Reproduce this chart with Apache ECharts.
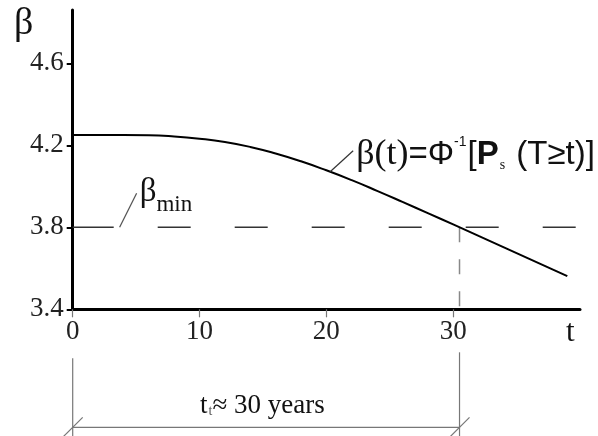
<!DOCTYPE html>
<html>
<head>
<meta charset="utf-8">
<script src="https://cdn.jsdelivr.net/npm/echarts@6/dist/echarts.min.js"></script>
<style>
html,body{margin:0;padding:0;background:#fff;}
#c{width:598px;height:436px;}
</style>
</head>
<body>
<div id="c"></div>
<script>
// ---- data ----
const tValues = [0, 2, 4, 6, 8, 10, 12, 14, 16, 18, 20, 22, 24, 26, 28, 30, 32, 34, 36, 38, 39];
const betaValues = [4.25, 4.25, 4.25, 4.249, 4.243, 4.232, 4.216, 4.192, 4.16, 4.122, 4.078, 4.03, 3.978, 3.924, 3.869, 3.814, 3.758, 3.702, 3.646, 3.59, 3.562];
const betaMin = 3.8;
const tTarget = 30.5;
const xTicks = [0, 10, 20, 30];
const yTicks = [3.4, 3.8, 4.2, 4.6];
const xRange = [0, 40];
const yRange = [3.4, 4.86];

const SERIF = '"Liberation Serif","Times New Roman",serif';
const SANS = '"Liberation Sans",Arial,sans-serif';

const curve = tValues.map((t, i) => [t, betaValues[i]]);

const chart = echarts.init(document.getElementById('c'), null, {renderer: 'canvas'});
const option = {
  animation: false,
  backgroundColor: '#fff',
  grid: {left: 72.7, right: 18, top: 10, bottom: 126.7},
  xAxis: {
    type: 'value', min: xRange[0], max: xRange[1],
    splitLine: {show: false},
    axisLine: {lineStyle: {color: '#000', width: 3}},
    axisTick: {customValues: xTicks, length: 8, lineStyle: {color: '#777', width: 1.2}},
    axisLabel: {customValues: xTicks, fontFamily: SERIF, fontSize: 27, color: '#222', margin: 9}
  },
  yAxis: {
    type: 'value', min: yRange[0], max: yRange[1],
    splitLine: {show: false},
    axisLine: {lineStyle: {color: '#000', width: 3}},
    axisTick: {customValues: yTicks, length: 6, lineStyle: {color: '#000', width: 2}},
    axisLabel: {customValues: yTicks, fontFamily: SERIF, fontSize: 27, color: '#222', margin: 9,
      formatter: v => v.toFixed(1)}
  },
  series: [
    {
      type: 'line', data: [[xRange[0], betaMin], [xRange[1], betaMin]],
      showSymbol: false, silent: true,
      lineStyle: {color: '#333', width: 1.5, type: [41, 44, 33, 44, 33, 44, 33, 44, 33, 44, 33, 44, 33, 44]}
    },
    {
      type: 'line', data: [[tTarget, betaMin], [tTarget, yRange[0]]],
      showSymbol: false, silent: true,
      lineStyle: {color: '#888', width: 1.5, type: [15, 17]}
    },
    {
      type: 'line', data: curve, smooth: 0.5, showSymbol: false, silent: true, z: 5,
      lineStyle: {color: '#000', width: 2}
    }
  ]
};
chart.setOption(option);

const P = (x, y) => chart.convertToPixel({gridIndex: 0}, [x, y]);
const mctx = document.createElement('canvas').getContext('2d');
function tw(text, font) { mctx.font = font; return mctx.measureText(text).width; }

function textRun(x, baseline, pieces) {
  const els = [];
  let cx = x;
  pieces.forEach(p => {
    const weight = p.bold ? 'bold ' : '';
    const font = weight + p.size + 'px ' + p.family;
    els.push({
      type: 'text', silent: true, z: 20,
      style: {
        text: p.text, x: cx, y: baseline + (p.dy || 0) - 0.32 * p.size,
        font: font, fill: p.color || '#111', verticalAlign: 'middle', align: 'left'
      }
    });
    cx += tw(p.text, font) + (p.gap || 0);
  });
  return els;
}

function line(x1, y1, x2, y2, color, w) {
  return {type: 'line', silent: true, z: 15,
    shape: {x1, y1, x2, y2}, style: {stroke: color, lineWidth: w}};
}

const o = P(0, yRange[0]);
const axisY = o[1];
const x0 = o[0];
const xt = P(tTarget, yRange[0])[0];
const xEnd = P(xRange[1], yRange[0])[0];
const dimY = axisY + 118;
const G = '#777';

const leadA = P(20.3, 4.071);
const leadB = P(3.7, betaMin);

let graphics = [];
graphics = graphics.concat(textRun(14, 36, [{text: 'β', size: 38, family: SERIF}]));
graphics = graphics.concat(textRun(xEnd - 14, axisY + 33, [{text: 't', size: 31, family: SERIF}]));
// formula
graphics.push(line(leadA[0], leadA[1], leadA[0] + 23, leadA[1] - 21, '#333', 1.2));
graphics = graphics.concat(textRun(leadA[0] + 26, leadA[1] - 6, [
  {text: 'β(t)', size: 36, family: SERIF},
  {text: '=Φ', size: 33, family: SANS},
  {text: '-1', size: 14, family: SANS, dy: -19, gap: 1},
  {text: '[', size: 33, family: SANS},
  {text: 'P', size: 33, family: SANS, bold: true, gap: 1},
  {text: 's', size: 14, family: SERIF, dy: 4, gap: 2},
  {text: ' (T≥t)]', size: 33, family: SANS}
]));
// beta min
graphics.push(line(leadB[0], leadB[1], leadB[0] + 17, leadB[1] - 34, '#555', 1.2));
graphics = graphics.concat(textRun(leadB[0] + 20, leadB[1] - 24, [
  {text: 'β', size: 33, family: SERIF},
  {text: 'min', size: 23, family: SERIF, dy: 9}
]));
// dimension
graphics.push(line(x0, axisY + 49, x0, 436, G, 1.2));
graphics.push(line(xt, axisY + 43, xt, 436, G, 1.2));
graphics.push(line(x0, dimY, xt, dimY, G, 1.2));
graphics.push(line(x0 - 10, dimY + 10, x0 + 10, dimY - 10, G, 1.2));
graphics.push(line(xt - 10, dimY + 10, xt + 10, dimY - 10, G, 1.2));
graphics = graphics.concat(textRun(200, dimY - 13, [
  {text: 't', size: 27, family: SERIF, gap: 1},
  {text: 't', size: 14, family: SERIF, dy: 2, color: '#555'},
  {text: '≈ 30 years', size: 27, family: SERIF}
]));

chart.setOption({graphic: {elements: graphics}});
</script>
</body>
</html>
